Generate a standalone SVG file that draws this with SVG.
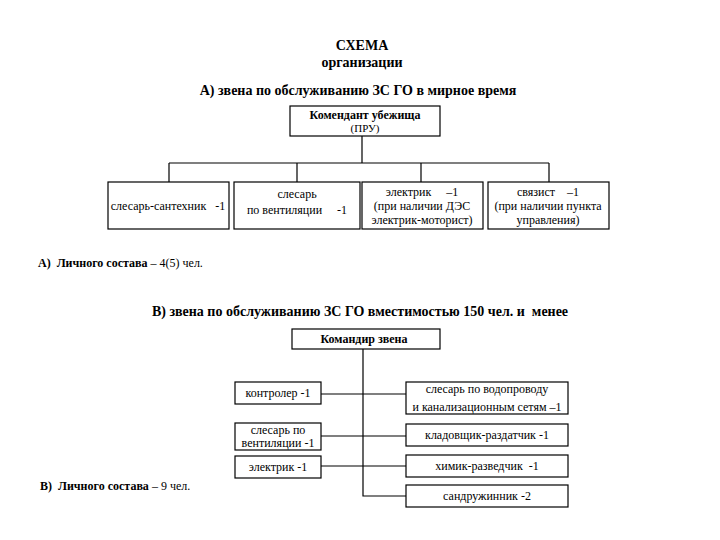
<svg xmlns="http://www.w3.org/2000/svg" width="720" height="540" viewBox="0 0 720 540">
<style>
text{font-family:'Liberation Serif','DejaVu Serif',serif;fill:#000}
.h{font-size:14px;font-weight:bold}
.b{font-size:12px;font-weight:bold}
.n{font-size:12px}
.s{font-size:11px}
.box{fill:#fff;stroke:#000;stroke-width:1.2}
.ln{fill:none;stroke:#000;stroke-width:1.2}
</style>
<rect width="720" height="540" fill="#fff"/>
<g id="titles" text-anchor="middle">
<text class="h" x="362" y="50">СХЕМА</text>
<text class="h" x="362" y="67">организации</text>
<text class="h" x="358" y="95">А) звена по обслуживанию ЗС ГО в мирное время</text>
<text class="h" x="360" y="316">В) звена по обслуживанию ЗС ГО вместимостью 150 чел. и&#160; менее</text>
</g>
<g id="connectors">
<path class="ln" d="M362 136V163M169 163H549M169 163V182M297 163V182M421 163V182M549 163V182"/>
<path class="ln" d="M363 349V496H406M321 394H406M321 436H406M321 466H406"/>
</g>
<g id="n-komendant"><rect class="box" x="290" y="106" width="150" height="30"/>
<text class="b" x="365" y="119" text-anchor="middle">Комендант убежища</text>
<text class="s" x="365" y="132" text-anchor="middle">(ПРУ)</text></g>
<g id="n-santehnik"><rect class="box" x="108" y="182" width="121" height="47"/>
<text class="n" x="168" y="210" text-anchor="middle">слесарь-сантехник&#160;&#160; -1</text></g>
<g id="n-ventil"><rect class="box" x="234" y="182" width="126" height="47"/>
<text class="n" x="297" y="198" text-anchor="middle">слесарь</text>
<text class="n" x="297" y="214" text-anchor="middle">по вентиляции&#160;&#160;&#160;&#160; -1</text></g>
<g id="n-elektrik"><rect class="box" x="362" y="182" width="121" height="47"/>
<text class="n" x="422" y="196" text-anchor="middle">электрик&#160;&#160;&#160;&#160; –1</text>
<text class="n" x="422" y="210" text-anchor="middle">(при наличии ДЭС</text>
<text class="n" x="422" y="224" text-anchor="middle">электрик-моторист)</text></g>
<g id="n-svyazist"><rect class="box" x="488" y="182" width="121" height="47"/>
<text class="n" x="548" y="196" text-anchor="middle">связист&#160;&#160;&#160; –1</text>
<text class="n" x="548" y="210" text-anchor="middle">(при наличии пункта</text>
<text class="n" x="548" y="224" text-anchor="middle">управления)</text></g>
<text class="n" x="38" y="267"><tspan font-weight="bold">А)&#160; Личного состава</tspan> – 4(5) чел.</text>
<g id="n-komandir"><rect class="box" x="292" y="329" width="148" height="20"/>
<text class="b" x="364" y="343" text-anchor="middle">Командир звена</text></g>
<g id="n-kontroler"><rect class="box" x="235" y="382" width="86" height="22"/>
<text class="n" x="278" y="397" text-anchor="middle">контролер -1</text></g>
<g id="n-ventil2"><rect class="box" x="235" y="423" width="86" height="27"/>
<text class="n" x="278" y="434" text-anchor="middle">слесарь по</text>
<text class="n" x="278" y="447" text-anchor="middle">вентиляции -1</text></g>
<g id="n-elektrik2"><rect class="box" x="235" y="456" width="86" height="22"/>
<text class="n" x="278" y="471" text-anchor="middle">электрик -1</text></g>
<g id="n-vodoprovod"><rect class="box" x="406" y="382" width="162" height="32"/>
<text class="n" x="487" y="393" text-anchor="middle">слесарь по водопроводу</text>
<text class="n" x="487" y="411" text-anchor="middle">и канализационным сетям –1</text></g>
<g id="n-kladovshik"><rect class="box" x="406" y="424" width="162" height="22"/>
<text class="n" x="487" y="439" text-anchor="middle">кладовщик-раздатчик -1</text></g>
<g id="n-himik"><rect class="box" x="406" y="455" width="162" height="22"/>
<text class="n" x="487" y="470" text-anchor="middle">химик-разведчик&#160; -1</text></g>
<g id="n-sandruzh"><rect class="box" x="406" y="485" width="162" height="22"/>
<text class="n" x="487" y="500" text-anchor="middle">сандружинник -2</text></g>
<text class="n" x="40" y="490"><tspan font-weight="bold">В)&#160; Личного состава</tspan> – 9 чел.</text>
</svg>
